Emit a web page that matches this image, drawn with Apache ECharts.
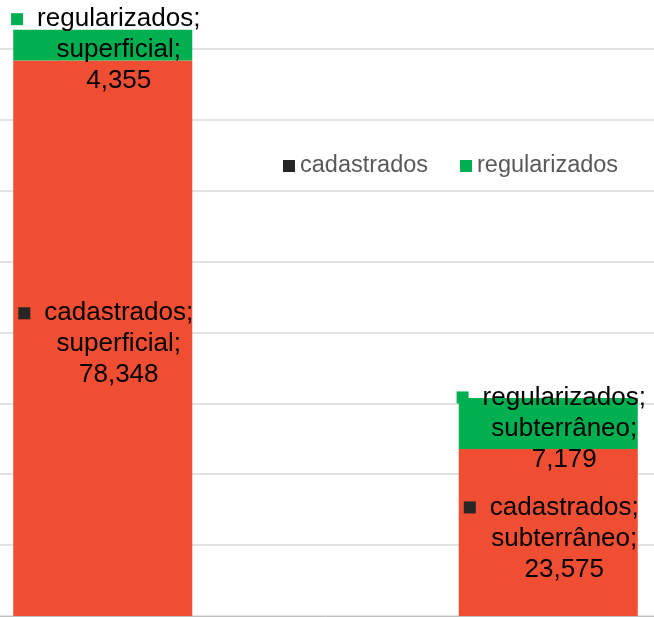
<!DOCTYPE html>
<html>
<head>
<meta charset="utf-8">
<script src="https://cdn.jsdelivr.net/npm/echarts@6/dist/echarts.min.js"></script>
<style>
  html, body { margin: 0; padding: 0; background: #fff; overflow: hidden; }
  /* the plot area runs past the window on the left, right and top, as in the cropped reference */
  #chart { width: 891px; height: 639px; margin-left: -120px; margin-top: -22px; }
</style>
</head>
<body>
<div id="chart"></div>
<script>
// dados
const categories = ['superficial', 'subterrâneo']
const cadastrados = [78348, 23575]
const regularizados = [4355, 7179]

const FONT = '"Liberation Sans", Arial, sans-serif'
const RED = '#F04E32'
const GREEN = '#00B050'
const KEY_DARK = '#262626'
const SHIFT_X = 120 // deslocamento do div
const SHIFT_Y = 22

// rótulo no estilo do Excel: chave + série; categoria; valor
function makeLabel(key, dy) {
  return {
    show: true,
    position: 'inside',
    offset: [3, dy],
    fontFamily: FONT,
    fontSize: 26,
    lineHeight: 31,
    color: '#000',
    formatter: p => '{k| }{t|' + p.seriesName + ';}\n{p|' + p.name + ';}\n{p|' + p.value.toLocaleString('en-US') + '}',
    rich: {
      k: { width: 12, height: 12, backgroundColor: key, align: 'center', verticalAlign: 'middle' },
      t: { fontFamily: FONT, fontSize: 26, lineHeight: 31, color: '#000', padding: [0, 0, 0, 14], align: 'center' },
      p: { fontFamily: FONT, fontSize: 26, lineHeight: 31, color: '#000', padding: [0, 0, 0, 26], align: 'center' }
    }
  }
}

const chart = echarts.init(document.getElementById('chart'))
chart.setOption({
  backgroundColor: '#fff',
  animation: false,
  legend: {
    left: 278 + SHIFT_X,
    top: 149 + SHIFT_Y,
    itemWidth: 12,
    itemHeight: 12,
    itemGap: 32,
    icon: 'rect',
    textStyle: { fontFamily: FONT, fontSize: 23.5, color: '#595959' },
    data: [
      { name: 'cadastrados', itemStyle: { color: KEY_DARK } },
      { name: 'regularizados', itemStyle: { color: GREEN } }
    ]
  },
  grid: { left: 0, right: 0, top: 0, bottom: 1, containLabel: false },
  xAxis: {
    type: 'category',
    data: categories,
    axisLine: { lineStyle: { color: '#BFBFBF', width: 1 } },
    axisTick: { show: false },
    axisLabel: { show: false }
  },
  yAxis: {
    type: 'value',
    min: 0,
    max: 90000,
    interval: 10000,
    axisLine: { show: false },
    axisTick: { show: false },
    axisLabel: { show: false },
    splitLine: { lineStyle: { color: '#D9D9D9', width: 1.5 } }
  },
  series: [
    {
      name: 'cadastrados',
      type: 'bar',
      stack: 'total',
      barWidth: 179,
      data: cadastrados,
      itemStyle: { color: RED },
      label: makeLabel(KEY_DARK, 6)
    },
    {
      name: 'regularizados',
      type: 'bar',
      stack: 'total',
      barWidth: 179,
      data: regularizados,
      itemStyle: { color: GREEN },
      label: makeLabel(GREEN, 5)
    }
  ]
})
</script>
</body>
</html>
